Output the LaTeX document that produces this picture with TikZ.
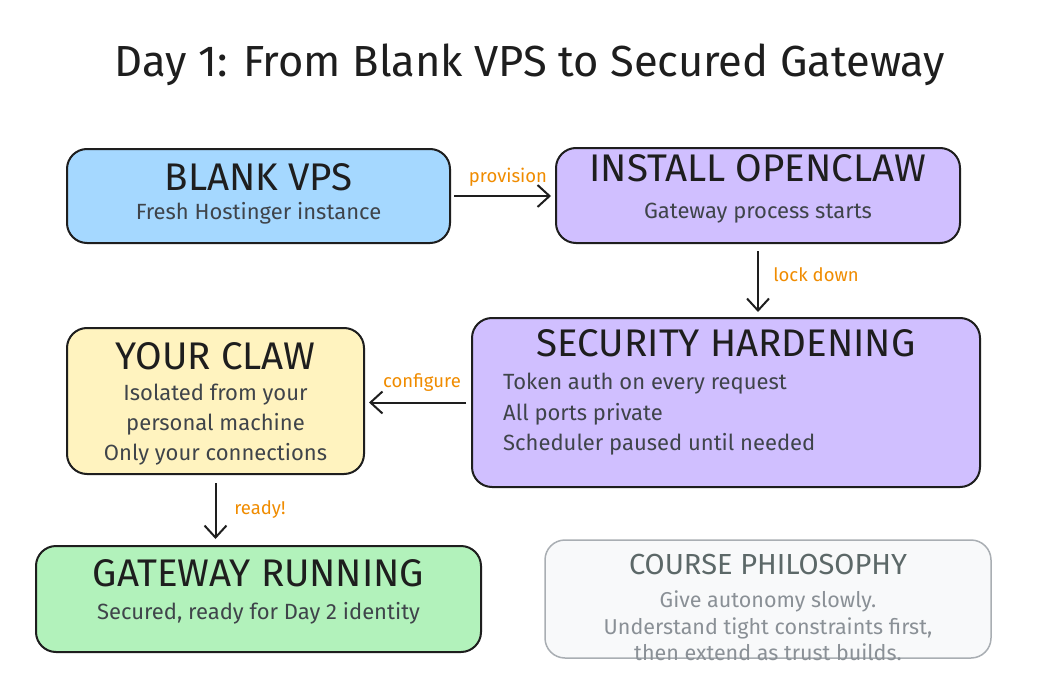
\documentclass[tikz,border=0pt]{standalone}
\usepackage{fontspec}
\setmainfont{Fira Sans}
\usetikzlibrary{arrows.meta}
\definecolor{ink}{HTML}{1E1E1E}
\definecolor{subink}{HTML}{3F444A}
\definecolor{lblue}{HTML}{A5D8FF}
\definecolor{lviolet}{HTML}{D0BFFF}
\definecolor{lyellow}{HTML}{FFF3BF}
\definecolor{lgreen}{HTML}{B2F2BB}
\definecolor{lgray}{HTML}{F8F9FA}
\definecolor{grayline}{HTML}{A9AEB3}
\definecolor{graytitle}{HTML}{5C6868}
\definecolor{graytext}{HTML}{8A9096}
\definecolor{orangelbl}{HTML}{F08C00}
\tikzset{
  box/.style={draw=ink, line width=2pt, rounded corners=20pt, inner sep=0pt},
  boxtitle/.style={text=ink, font=\fontsize{38.5}{42}\selectfont, inner sep=0pt},
  boxsub/.style={text=subink, font=\fontsize{22}{30}\selectfont, inner sep=0pt},
  flow/.style={draw=ink, line width=2pt, -{Straight Barb[length=12pt,width=22pt,line width=2pt]}},
  flowlbl/.style={text=orangelbl, font=\fontsize{18.5}{20}\selectfont, inner sep=0pt},
}
\begin{document}
\begin{tikzpicture}[x=1pt,y=-1pt]
\useasboundingbox[fill=white] (0,0) rectangle (1045,677);
\node[text=ink, font=\fontsize{43.5}{48}\selectfont, inner sep=0pt] (title) at (530,65) {Day 1: From Blank VPS to Secured Gateway};

\node[box, fill=lblue, minimum width=383pt, minimum height=94pt] (vps) at (258.5,196) {};
\node[boxtitle] (vpst) at (258.5,177) {BLANK VPS};
\node[boxsub] (vpss) at (258.5,213) {Fresh Hostinger instance};

\node[box, fill=lviolet, minimum width=404pt, minimum height=95pt] (inst) at (758,195.5) {};
\node[boxtitle] (instt) at (758,168) {INSTALL OPENCLAW};
\node[boxsub] (insts) at (758,213) {Gateway process starts};

\node[box, fill=lviolet, minimum width=508pt, minimum height=169pt] (sec) at (726,402.5) {};
\node[boxtitle] (sect) at (726,343) {SECURITY HARDENING};
\node[boxsub, anchor=west] (sec1) at (503,384) {Token auth on every request};
\node[boxsub, anchor=west] (sec2) at (503,414) {All ports private};
\node[boxsub, anchor=west] (sec3) at (503,444) {Scheduler paused until needed};

\node[box, fill=lyellow, minimum width=297pt, minimum height=146pt] (claw) at (215.5,401) {};
\node[boxtitle] (clawt) at (215.5,356) {YOUR CLAW};
\node[boxsub, align=center] (claws) at (215.5,425) {Isolated from your\\personal machine\\Only your connections};

\node[box, fill=lgreen, minimum width=445pt, minimum height=106pt] (run) at (258.5,599) {};
\node[boxtitle] (runt) at (258.5,573) {GATEWAY RUNNING};
\node[boxsub] (runs) at (258.5,613) {Secured, ready for Day 2 identity};

\node[draw=grayline, line width=1.5pt, rounded corners=20pt, fill=lgray, minimum width=446pt, minimum height=118pt] (phil) at (768,599) {};
\node[text=graytitle, font=\fontsize{29}{32}\selectfont, inner sep=0pt] (philt) at (768,565) {COURSE PHILOSOPHY};
\node[text=graytext, font=\fontsize{21.5}{26.5}\selectfont, align=center, inner sep=0pt] (phils) at (768,626) {Give autonomy slowly.\\Understand tight constraints first,\\then extend as trust builds.};

\draw[flow, shorten <=3pt, shorten >=4pt] (vps.east) -- (vps.east -| inst.west);
\node[flowlbl] (l1) at (508,177) {provision};
\draw[flow, shorten <=7pt, shorten >=5pt] (inst.south) -- (inst.south |- sec.north);
\node[flowlbl] (l2) at (816,275) {lock down};
\draw[flow, shorten <=5pt, shorten >=4pt] (sec.west) -- (sec.west -| claw.east);
\node[flowlbl] (l3) at (422,383) {configure};
\draw[flow, shorten <=8pt, shorten >=6pt] (claw.south) -- (claw.south |- run.north);
\node[flowlbl] (l4) at (260,510) {ready!};
\end{tikzpicture}
\end{document}
